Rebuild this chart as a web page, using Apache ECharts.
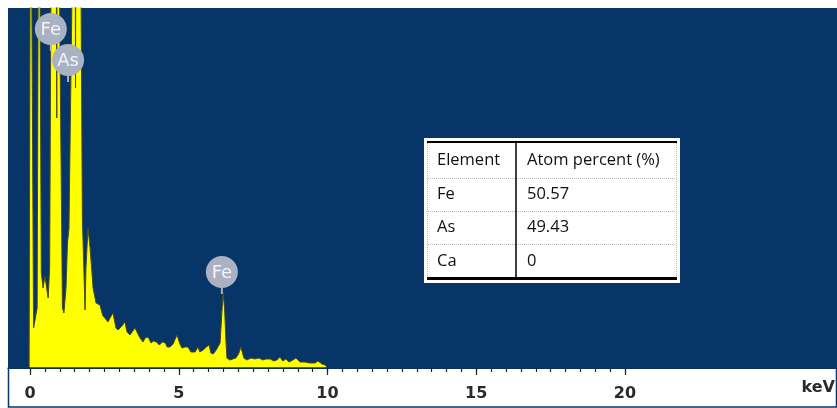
<!DOCTYPE html>
<html>
<head>
<meta charset="utf-8">
<script src="https://cdn.jsdelivr.net/npm/echarts@6/dist/echarts.min.js"></script>
<style>
html,body{margin:0;padding:0;background:#fff;}
#chart{width:837px;height:408px;}
</style>
</head>
<body>
<div id="chart"></div>
<script>
// Spectrum (energy in keV, intensity in arbitrary counts; peaks above 360 are clipped at the top)
var energyKeV = [-0.13,-0.07,-0.03,0.02,0.05,0.12,0.24,0.30,0.38,0.44,0.50,0.52,0.61,0.66,0.74,0.86,0.90,0.92,0.96,1.09,1.14,1.21,1.26,1.31,1.51,1.53,1.55,1.67,1.76,1.85,1.88,1.95,2.02,2.12,2.22,2.35,2.45,2.52,2.62,2.69,2.79,2.89,2.96,3.02,3.09,3.19,3.26,3.36,3.43,3.53,3.63,3.70,3.80,3.87,3.97,4.07,4.15,4.25,4.35,4.45,4.55,4.61,4.71,4.81,4.87,4.94,5.04,5.11,5.21,5.31,5.41,5.45,5.55,5.65,5.71,5.82,5.93,6.02,6.08,6.16,6.21,6.26,6.39,6.44,6.49,6.54,6.59,6.62,6.72,6.82,6.92,7.01,7.09,7.19,7.29,7.43,7.56,7.70,7.83,7.93,8.07,8.20,8.30,8.40,8.50,8.60,8.71,8.84,8.94,9.08,9.24,9.41,9.58,9.68,9.82,9.92,9.98];
var counts    = [0,0,0,600,600,40,60,600,95,80,92,92,70,100,600,600,250,600,600,60,55,80,125,140,600,280,600,600,150,58,100,140,120,80,65,63,52,50,46,50,55,40,38,36,42,46,36,33,36,40,34,30,26,30,31,25,27,26,23,26,25,21,21,24,25,33,24,20,21,21,16,18,16,21,16,18,21,23,15,14,13,18,25,50,75,60,25,10,8,9,10,14,21,10,8,10,9,10,8,9,9,7,8,11,7,9,6,8,10,6,6,5,5,7,4,3,2,0,0];

// Peak annotations (energy, label centre height in counts)
var peakNames  = ['Fe','As','Fe'];
var peakKeV    = [0.70,1.28,6.45];
var peakLabelY = [339,308,96];

// Axis ticks
var majorInterval = 5;
var minorInterval = 0.5;
var tickMin = 0, tickMax = 20;
var axisUnit = 'keV';

// Composition table
var tableHeader = ['Element','Atom percent (%)'];
var tableElements = ['Fe','As','Ca'];
var tablePercent = ['50.57','49.43','0'];

var spectrum = energyKeV.map(function(e,i){return [e,counts[i]];});
var anno = peakKeV.map(function(e,i){return {value:[e,peakLabelY[i]], name:peakNames[i]};});
var chart = echarts.init(document.getElementById('chart'));

var tx = 424, ty = 138, tw = 256, th = 145;
var colX = 516;
var rowY = [143,178,211,244,278];
var g = [];
g.push({type:'rect', shape:{x:tx,y:ty,width:tw,height:th}, style:{fill:'#ffffff'}, z:100});
g.push({type:'line', shape:{x1:427.5,y1:rowY[0],x2:427.5,y2:rowY[4]}, style:{stroke:'#b8b8b8',lineWidth:1,lineDash:[1,1]}, z:101});
g.push({type:'line', shape:{x1:676.5,y1:rowY[0],x2:676.5,y2:rowY[4]}, style:{stroke:'#b8b8b8',lineWidth:1,lineDash:[1,1]}, z:101});
for (var r=1;r<4;r++){
  g.push({type:'line', shape:{x1:428,y1:rowY[r]+0.5,x2:676,y2:rowY[r]+0.5}, style:{stroke:'#b8b8b8',lineWidth:1,lineDash:[1,1]}, z:101});
}
g.push({type:'line', shape:{x1:427,y1:rowY[0]-1,x2:677,y2:rowY[0]-1}, style:{stroke:'#000',lineWidth:2}, z:102});
g.push({type:'line', shape:{x1:427,y1:rowY[4]+0.5,x2:677,y2:rowY[4]+0.5}, style:{stroke:'#000',lineWidth:3}, z:102});
g.push({type:'line', shape:{x1:colX,y1:rowY[0],x2:colX,y2:rowY[4]}, style:{stroke:'#000',lineWidth:1.5}, z:102});
var cellFont = '16.5px "Open Sans", sans-serif';
var cells = [[tableHeader[0],tableHeader[1]]];
for (var i=0;i<tableElements.length;i++) cells.push([tableElements[i],tablePercent[i]]);
for (var r2=0;r2<cells.length;r2++){
  var cy = (rowY[r2]+rowY[r2+1])/2;
  g.push({type:'text', x:437, y:cy, style:{text:cells[r2][0], font:cellFont, fill:'#111', verticalAlign:'middle', align:'left'}, z:103});
  g.push({type:'text', x:527, y:cy, style:{text:cells[r2][1], font:cellFont, fill:'#111', verticalAlign:'middle', align:'left'}, z:103});
}
g.push({type:'rect', shape:{x:8.5,y:368,width:828,height:39}, style:{fill:'none',stroke:'#083567',lineWidth:1.5}, z:50});
g.push({type:'text', x:835, y:388, style:{text:axisUnit, font:'bold 16px "DejaVu Sans", Verdana, sans-serif', fill:'#2a2a2a', align:'right', verticalAlign:'middle'}, z:51});

var labelFont = '18px "DejaVu Sans", Verdana, sans-serif';
var bubbleColor = '#a9b1c2';

chart.setOption({
  animation:false,
  backgroundColor:'#ffffff',
  grid:[
    {left:8,right:0,top:8,bottom:40,show:true,backgroundColor:'#083567',borderWidth:0},
    {left:30,width:595,top:8,bottom:40,show:false}
  ],
  xAxis:[{
    gridIndex:0, type:'value', min:-0.74, max:27.13, position:'bottom',
    axisLine:{show:true,lineStyle:{color:'#222',width:1}},
    axisTick:{show:false}, axisLabel:{show:false}, splitLine:{show:false}
  },{
    gridIndex:1, type:'value', min:tickMin, max:tickMax, interval:majorInterval, position:'bottom',
    axisLine:{show:false},
    axisTick:{show:true,length:7,lineStyle:{color:'#222',width:1.2}},
    axisLabel:{show:true,fontSize:16,fontWeight:'bold',color:'#2a2a2a',margin:18,fontFamily:'"DejaVu Sans", Verdana, sans-serif'},
    splitLine:{show:false}
  },{
    gridIndex:1, type:'value', min:tickMin, max:tickMax, interval:minorInterval, position:'bottom',
    axisLine:{show:false},
    axisTick:{show:true,length:4,lineStyle:{color:'#222',width:1.2}},
    axisLabel:{show:false}, splitLine:{show:false}
  }],
  yAxis:[
    {gridIndex:0,type:'value',min:0,max:360,show:false,splitLine:{show:false}},
    {gridIndex:1,type:'value',min:0,max:360,show:false,splitLine:{show:false}}
  ],
  graphic:g,
  series:[{
    type:'line', xAxisIndex:0, yAxisIndex:0, data:spectrum, symbol:'none', clip:true,
    lineStyle:{color:'#4a4a20',width:1},
    areaStyle:{color:'#ffff00',opacity:1},
    z:2
  },{
    type:'custom', xAxisIndex:0, yAxisIndex:0, data:anno, z:5, clip:false,
    renderItem:function(params, api){
      var p = api.coord([api.value(0), api.value(1)]);
      var name = peakNames[params.dataIndex];
      return {type:'group', children:[
        {type:'line', shape:{x1:p[0],y1:p[1]+12,x2:p[0],y2:p[1]+22}, style:{stroke:bubbleColor,lineWidth:2}},
        {type:'circle', shape:{cx:p[0],cy:p[1],r:16}, style:{fill:bubbleColor}},
        {type:'text', style:{text:name, x:p[0], y:p[1]+1, align:'center', verticalAlign:'middle', fill:'#f3f4f7', font:labelFont}}
      ]};
    }
  }]
});
</script>
</body>
</html>
